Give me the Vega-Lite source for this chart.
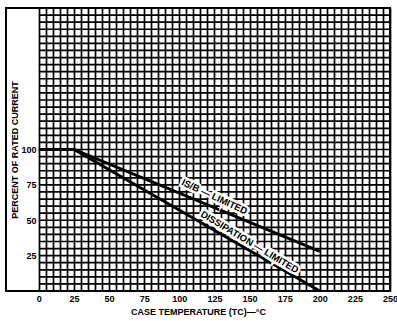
{
  "$schema": "https://vega.github.io/schema/vega-lite/v6.json",
  "width": 384,
  "height": 283,
  "autosize": {"type": "none"},
  "padding": {"left": 6, "top": 8, "right": 7, "bottom": 30},
  "background": "white",
  "config": {
    "view": {"stroke": "black", "strokeWidth": 2},
    "axis": {
      "labelFont": "Liberation Sans",
      "labelFontWeight": "bold",
      "labelFontSize": 9,
      "labelColor": "black",
      "titleFont": "Liberation Sans",
      "titleFontWeight": "bold",
      "titleFontSize": 9,
      "titleColor": "black",
      "domain": false,
      "ticks": false
    }
  },
  "datasets": {
    "hgrid": [
      {"g": 0}, {"g": 5}, {"g": 10}, {"g": 15}, {"g": 20}, {"g": 25}, {"g": 30}, {"g": 35}, {"g": 40}, {"g": 45},
      {"g": 50}, {"g": 55}, {"g": 60}, {"g": 65}, {"g": 70}, {"g": 75}, {"g": 80}, {"g": 85}, {"g": 90}, {"g": 95},
      {"g": 100}, {"g": 105}, {"g": 110}, {"g": 115}, {"g": 120}, {"g": 125}, {"g": 130}, {"g": 135}, {"g": 140}, {"g": 145},
      {"g": 150}, {"g": 155}, {"g": 160}, {"g": 165}, {"g": 170}, {"g": 175}, {"g": 180}, {"g": 185}, {"g": 190}, {"g": 195},
      {"g": 200}
    ],
    "curves": [
      {"s": "isb", "t": 0, "p": 100},
      {"s": "isb", "t": 25, "p": 100},
      {"s": "isb", "t": 200, "p": 28},
      {"s": "diss", "t": 0, "p": 100},
      {"s": "diss", "t": 25, "p": 100},
      {"s": "diss", "t": 200, "p": 0}
    ],
    "lab1": [{"label": "IS/B — LIMITED", "t": 125, "p": 66.5}],
    "lab2": [{"label": "DISSIPATION — LIMITED", "t": 150, "p": 34.5}]
  },
  "layer": [
    {
      "data": {"name": "hgrid"},
      "mark": {"type": "rule", "color": "black", "strokeWidth": 1.7},
      "encoding": {
        "y": {"field": "g", "type": "quantitative"},
        "x": {"datum": 0, "type": "quantitative"},
        "x2": {"datum": 250}
      }
    },
    {
      "data": {"name": "curves"},
      "mark": {"type": "line", "color": "black", "strokeWidth": 2.8},
      "encoding": {
        "x": {"field": "t", "type": "quantitative",
          "scale": {"domain": [-23.4, 250], "nice": false, "zero": false},
          "axis": {
            "values": [0,5,10,15,20,25,30,35,40,45,50,55,60,65,70,75,80,85,90,95,100,105,110,115,120,125,130,135,140,145,150,155,160,165,170,175,180,185,190,195,200,205,210,215,220,225,230,235,240,245,250],
            "tickCount": 100,
            "grid": true, "gridColor": "black", "gridWidth": 1.7, "gridOpacity": 1,
            "labelExpr": "datum.value % 25 === 0 ? datum.label : ''",
            "labelOverlap": false, "labelFlush": false, "labelPadding": 3,
            "title": "CASE TEMPERATURE (TC)—°C", "titlePadding": 4
          }},
        "y": {"field": "p", "type": "quantitative",
          "scale": {"domain": [0, 200], "nice": false, "zero": false},
          "axis": {"values": [25, 50, 75, 100], "grid": false, "offset": -33, "labelPadding": 3,
            "title": "PERCENT OF RATED CURRENT", "titleX": -25, "titleY": 141.5, "titleAngle": -90,
            "titleAlign": "center", "titleBaseline": "middle"}},
        "detail": {"field": "s"}
      }
    },
    {
      "data": {"name": "lab1"},
      "mark": {"type": "text", "angle": 25, "font": "Liberation Sans", "fontWeight": "bold", "fontSize": 9.5,
        "fill": "white", "stroke": "white", "strokeWidth": 5, "align": "center", "baseline": "middle"},
      "encoding": {"x": {"field": "t", "type": "quantitative"}, "y": {"field": "p", "type": "quantitative"}, "text": {"field": "label"}}
    },
    {
      "data": {"name": "lab1"},
      "mark": {"type": "text", "angle": 25, "font": "Liberation Sans", "fontWeight": "bold", "fontSize": 9.5,
        "fill": "black", "align": "center", "baseline": "middle"},
      "encoding": {"x": {"field": "t", "type": "quantitative"}, "y": {"field": "p", "type": "quantitative"}, "text": {"field": "label"}}
    },
    {
      "data": {"name": "lab2"},
      "mark": {"type": "text", "angle": 31, "font": "Liberation Sans", "fontWeight": "bold", "fontSize": 9.5,
        "fill": "white", "stroke": "white", "strokeWidth": 5, "align": "center", "baseline": "middle"},
      "encoding": {"x": {"field": "t", "type": "quantitative"}, "y": {"field": "p", "type": "quantitative"}, "text": {"field": "label"}}
    },
    {
      "data": {"name": "lab2"},
      "mark": {"type": "text", "angle": 31, "font": "Liberation Sans", "fontWeight": "bold", "fontSize": 9.5,
        "fill": "black", "align": "center", "baseline": "middle"},
      "encoding": {"x": {"field": "t", "type": "quantitative"}, "y": {"field": "p", "type": "quantitative"}, "text": {"field": "label"}}
    }
  ]
}
